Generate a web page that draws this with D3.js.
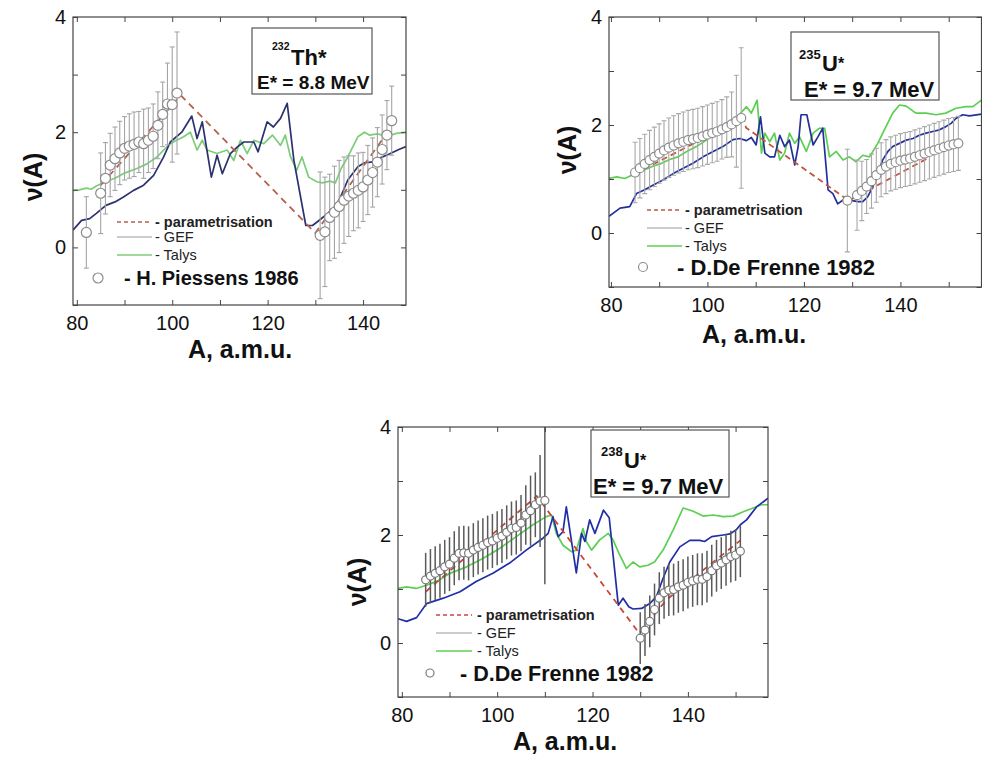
<!DOCTYPE html>
<html><head><meta charset="utf-8">
<script src="https://cdn.jsdelivr.net/npm/d3@7"></script>
<style>body{margin:0;background:#fff}svg{display:block}text{font-family:"Liberation Sans",Arial,sans-serif}</style>
</head><body><svg id="c" width="982" height="758"></svg>
<script>
// ---------- data ----------
const xTickValues = [80,90,100,110,120,130,140,150];
const xLabelValues = [80,100,120,140];
const yTickValues = [-1,0,1,2,3,4];
const yLabelValues = [0,2,4];

// 232Th*  (A, nu)
const thGef = [[79.2,0.30],[81,0.47],[82.7,0.50],[84.1,0.59],[86.1,0.73],[88,0.79],[89.7,0.87],[91.9,0.99],[94,1.08],[96.1,1.25],[98.2,1.57],[99.6,1.83],[102,2.0],[104.1,2.28],[105.2,1.89],[106.3,2.18],[108.2,1.22],[109.4,1.6],[110.5,1.28],[112.2,1.63],[113.6,1.74],[115,1.83],[117.1,1.83],[118,1.66],[119.9,2.18],[121.2,2.09],[122.7,2.24],[124.1,2.5],[125.5,1.51],[128,0.38],[129.4,0.38],[130.5,0.45],[132.6,0.59],[134.7,0.76],[136.8,1.17],[138.9,1.4],[140.3,1.47],[141.7,1.48],[143.5,1.55],[145.5,1.62],[147.5,1.7],[149,1.75]];
const thTalys = [[79.2,0.99],[80.5,1.0],[82,1.03],[83,1.01],[84,1.06],[86,1.14],[88,1.2],[90,1.29],[92.6,1.37],[94.7,1.45],[96.8,1.57],[98.2,1.69],[99.6,1.8],[100.9,1.86],[102.4,1.92],[103.8,2.0],[105.2,1.69],[106.3,1.86],[107.3,1.69],[109.4,1.63],[111.5,1.69],[112.9,1.51],[114.3,1.86],[115.7,1.63],[117.1,1.86],[119.2,1.8],[121,1.95],[122.7,1.77],[123.7,1.95],[124.8,1.57],[126.1,1.34],[127.2,1.57],[128.6,1.22],[130.3,1.14],[131.5,1.12],[133,1.15],[134.2,1.12],[135.4,1.37],[136.8,1.57],[138.9,1.92],[140.3,2.0],[141.3,1.95],[143,1.97],[145,1.93],[147,1.98],[149,2.0]];
const thParam = [[85,1.08],[101.8,2.64],[130,0.25],[146,2.1]];
const thExp = [[82,0.26,0.62],[85,0.94,0.7],[86,1.2,0.62],[87,1.43,0.55],[88,1.54,0.55],[89,1.64,0.55],[90,1.72,0.55],[91,1.76,0.56],[92,1.79,0.56],[93,1.83,0.53],[94,1.8,0.6],[95,1.86,0.56],[96,1.93,0.56],[97,2.12,0.58],[98,2.31,0.56],[99,2.49,0.71],[100,2.48,1.0],[101,2.68,1.06],
  [131,0.21,1.1],[132,0.27,0.95],[133,0.52,0.75],[134,0.61,0.8],[135,0.71,0.8],[136,0.82,0.75],[137,0.89,0.7],[138,0.94,0.65],[139,0.99,0.65],[140,1.05,0.6],[141,1.17,0.6],[142,1.3,0.6],[143,1.48,0.6],[144,1.7,0.6],[145,1.95,0.6],[146,2.2,0.6]];

// 235U*
const u5Gef = [[79.6,0.31],[81.9,0.46],[83.9,0.49],[85.3,0.73],[87,0.8],[88.8,0.89],[90.8,0.98],[92.9,1.1],[95,1.2],[97,1.29],[99.1,1.41],[101.2,1.51],[103.2,1.6],[105.3,1.73],[106.7,1.75],[108.1,1.71],[109.1,1.77],[110.1,1.63],[111,2.15],[111.9,1.48],[112.9,1.41],[113.9,1.41],[115,1.81],[116,1.6],[117,1.72],[118.1,1.26],[118.8,1.6],[119.4,2.19],[120.6,2.19],[121.9,1.63],[122.9,1.78],[123.9,1.94],[125,0.8],[126,0.73],[127,0.54],[128.1,0.61],[129.4,0.61],[131.2,0.58],[132.2,0.58],[133.2,0.67],[134.3,0.86],[135.3,1.1],[136.3,1.35],[137.4,1.51],[138.4,1.6],[139.8,1.66],[141.2,1.72],[142.6,1.75],[143.9,1.81],[145.3,1.85],[146.7,1.88],[148.1,1.91],[149.4,1.97],[150.5,2.03],[151.5,2.12],[152.9,2.19],[154.3,2.17],[156.8,2.2]];
const u5Talys = [[79.6,1.01],[81.2,1.04],[82.9,1.01],[84.3,1.07],[85.3,1.1],[87,1.17],[88.8,1.24],[90.5,1.29],[92.2,1.36],[93.9,1.41],[95.7,1.51],[97.7,1.6],[99.8,1.72],[101.5,1.85],[103.2,1.94],[105,2.06],[106.6,2.19],[108.1,2.34],[109.1,2.22],[110.3,2.46],[111.2,1.48],[111.9,1.85],[112.9,1.69],[113.9,1.85],[115,1.35],[116,1.48],[117,1.85],[118.1,1.66],[119.1,1.78],[120.5,1.51],[121.9,1.85],[123.2,1.94],[124.3,1.94],[125.3,1.41],[126.7,1.51],[128.1,1.35],[129.4,1.41],[130.8,1.32],[132.2,1.44],[133.6,1.41],[135.3,1.66],[137,1.97],[138.4,2.22],[139.8,2.37],[141.2,2.35],[143.2,2.22],[145.3,2.22],[147.4,2.19],[149.4,2.22],[151.5,2.31],[153.6,2.34],[155,2.34],[156.8,2.46]];
const u5Param = [[85,1.1],[107.5,2.13],[108,1.95],[129.3,0.6],[146,1.4]];
const u5Exp = [[85,1.12,0.56],[86,1.2,0.55],[87,1.28,0.55],[88,1.35,0.55],[89,1.41,0.55],[90,1.47,0.55],[91,1.53,0.55],[92,1.58,0.55],[93,1.62,0.55],[94,1.66,0.55],[95,1.69,0.55],[96,1.72,0.55],[97,1.74,0.55],[98,1.76,0.55],[99,1.79,0.55],[100,1.82,0.55],[101,1.85,0.55],[102,1.88,0.55],[103,1.92,0.55],[104,1.96,0.56],[105,2.01,0.6],[106,2.07,0.85],[107,2.13,1.3],
  [129,0.6,0.95],[131,0.7,0.65],[132,0.78,0.55],[133,0.86,0.5],[134,0.96,0.5],[135,1.07,0.5],[136,1.17,0.5],[137,1.23,0.5],[138,1.28,0.5],[139,1.31,0.5],[140,1.34,0.5],[141,1.36,0.5],[142,1.38,0.5],[143,1.41,0.5],[144,1.44,0.5],[145,1.47,0.5],[146,1.5,0.5],[147,1.53,0.5],[148,1.56,0.5],[149,1.59,0.5],[150,1.62,0.5],[151,1.64,0.5],[152,1.66,0.5]];

// 238U*
const u8Gef = [[79.2,0.45],[81,0.4],[83.1,0.47],[85.2,0.73],[88.7,0.83],[92.2,0.95],[95.6,1.14],[99.1,1.29],[102.6,1.48],[106.1,1.72],[109.6,1.94],[110.7,2.03],[111.7,2.34],[112.8,1.97],[113.8,2.06],[114.5,2.52],[116.6,1.3],[117.7,2.03],[118.4,1.88],[119.4,2.28],[120.5,2.03],[122.3,2.46],[123.5,2.32],[125.4,0.7],[126.4,0.83],[127.6,0.67],[128.5,0.63],[130.3,0.64],[132,0.73],[133.4,0.86],[134.8,1.2],[136.2,1.5],[138.3,1.78],[140.4,1.9],[142.5,1.9],[143.5,1.88],[145,1.97],[147.4,2.0],[148.8,2.02],[150.2,2.1],[151,2.19],[152.3,2.28],[154.4,2.52],[156.8,2.68]];
const u8Talys = [[79.2,1.01],[81,1.04],[83,1.01],[85.2,1.07],[87.5,1.15],[90.1,1.29],[93.6,1.41],[97.1,1.57],[100.5,1.75],[104,1.97],[107.5,2.19],[110.3,2.34],[111.4,2.37],[112.4,2.03],[113.8,1.81],[115.6,1.69],[116.6,1.72],[118,2.12],[118.7,1.88],[119.8,1.72],[121.5,1.91],[123.3,2.03],[124.3,1.91],[125.7,1.63],[127.1,1.38],[128.5,1.5],[129.9,1.41],[131.6,1.44],[133,1.5],[134.8,1.72],[136.9,2.09],[139,2.5],[141.1,2.44],[143.2,2.35],[145.3,2.37],[147.4,2.34],[149.5,2.35],[151.6,2.43],[153.7,2.5],[155.4,2.56],[156.8,2.56]];
const u8Param = [[85,0.95],[108.3,2.72],[129.8,0.18],[135.5,0.8],[142.5,1.3],[151,1.9]];
const u8Exp = [[85,1.17,0.5],[86,1.24,0.5],[87,1.29,0.5],[88,1.34,0.5],[89,1.41,0.5],[90,1.46,0.5],[91,1.57,0.5],[92,1.66,0.5],[93,1.67,0.5],[94,1.66,0.5],[95,1.72,0.5],[96,1.77,0.5],[97,1.81,0.5],[98,1.86,0.5],[99,1.89,0.5],[100,1.94,0.5],[101,1.98,0.5],[102,2.05,0.5],[103,2.12,0.5],[104,2.14,0.5],[105,2.22,0.52],[106,2.37,0.55],[107,2.45,0.65],[108,2.56,0.6],[109,2.63,0.85],[110,2.64,1.55],
  [130,0.09,0.48],[131,0.24,0.48],[132,0.40,0.48],[133,0.62,0.48],[134,0.83,0.48],[135,0.93,0.48],[136,0.98,0.48],[137,0.99,0.48],[138,1.04,0.48],[139,1.07,0.48],[140,1.12,0.48],[141,1.15,0.48],[142,1.18,0.48],[143,1.18,0.48],[144,1.23,0.48],[145,1.34,0.48],[146,1.43,0.48],[147,1.48,0.48],[148,1.54,0.48],[149,1.6,0.48],[150,1.63,0.48],[151,1.70,0.48]];

const legendLabels = ["- parametrisation","- GEF","- Talys"];

// ---------- layout / style ----------
const panels = [
  {id:"th", L:73, R:406, T:17, B:305, xd:[79.2,149],
   series:{gef:thGef, talys:thTalys, param:thParam, exp:thExp},
   gefC:"#2c3170", talysC:"#7ccd78", paramC:"#b4614e", errC:"#a5a5a5", circC:"#8c8c8c", r:5, cap:2.5, dash:"7,5",
   nuX:33, nuY:177, axX:240, axY:358,
   box:{x:252,y:28,w:120,h:66}, iso:{n:"232",ns:10.5,nx:272,ny:50,el:"Th*",ex:291,ey:65,es:22,star:false}, energy:{t:"E* = 8.8 MeV",x:257,y:89,s:19},
   leg:{lx:117,lx2:152,tx:155,y:[222,237,255],cx:98,cy:278,ctx:124,ref:"- H. Piessens 1986",refS:20}},
  {id:"u5", L:609, R:981.5, T:17, B:287, xd:[79.6,156.8],
   series:{gef:u5Gef, talys:u5Talys, param:u5Param, exp:u5Exp},
   gefC:"#24309a", talysC:"#5ccf52", paramC:"#c0553f", errC:"#a8a8a8", circC:"#8c8c8c", r:4.5, cap:2.5, dash:"6,4",
   nuX:567, nuY:150, axX:754, axY:343,
   box:{x:791,y:32,w:148,h:68}, iso:{n:"235",ns:13,nx:799,ny:59,el:"U",ex:822,ey:71,es:22,star:true}, energy:{t:"E* = 9.7 MeV",x:804,y:97,s:22},
   leg:{lx:647,lx2:682,tx:685,y:[210,228,246],cx:643,cy:267,ctx:677,ref:"- D.De Frenne 1982",refS:22}},
  {id:"u8", L:398, R:768, T:427, B:697, xd:[79.2,156.8],
   series:{gef:u8Gef, talys:u8Talys, param:u8Param, exp:u8Exp},
   gefC:"#1f2fa6", talysC:"#5ccf52", paramC:"#cc4538", errC:"#5a5a5a", circC:"#7a7a7a", r:4, cap:0, dash:"6,5",
   nuX:357, nuY:582, axX:565, axY:750,
   box:{x:591,y:430,w:138,h:67}, iso:{n:"238",ns:13,nx:601,ny:456,el:"U",ex:624,ey:468,es:22,star:true}, energy:{t:"E* = 9.7 MeV",x:593,y:494,s:22},
   leg:{lx:436,lx2:472,tx:477,y:[615,633,651],cx:430,cy:673,ctx:460,ref:"- D.De Frenne 1982",refS:21.5}}
];

const svg = d3.select("#c");
const defs = svg.append("defs");

panels.forEach(p => {
  const s = p.series;
  const x = d3.scaleLinear().domain(p.xd).range([p.L, p.R]);
  const y = d3.scaleLinear().domain([-1,4]).range([p.B, p.T]);
  defs.append("clipPath").attr("id","clip-"+p.id).append("rect")
    .attr("x",p.L).attr("y",p.T).attr("width",p.R-p.L).attr("height",p.B-p.T);
  const g = svg.append("g");
  const pg = g.append("g").attr("clip-path",`url(#clip-${p.id})`);
  const line = d3.line().x(d=>x(d[0])).y(d=>y(d[1]));

  pg.append("path").attr("d",line(s.talys)).attr("fill","none").attr("stroke",p.talysC).attr("stroke-width",1.7).attr("stroke-linejoin","round");
  pg.append("path").attr("d",line(s.gef)).attr("fill","none").attr("stroke",p.gefC).attr("stroke-width",1.7).attr("stroke-linejoin","round");
  pg.append("path").attr("d",line(s.param)).attr("fill","none").attr("stroke",p.paramC).attr("stroke-width",1.8).attr("stroke-dasharray",p.dash);

  const eb = pg.append("g").attr("stroke",p.errC).attr("stroke-width",p.id==="u8"?1.5:1.1);
  s.exp.forEach(d => {
    eb.append("line").attr("x1",x(d[0])).attr("x2",x(d[0])).attr("y1",y(d[1]+d[2])).attr("y2",y(d[1]-d[2]));
    if (p.cap>0) {
      eb.append("line").attr("x1",x(d[0])-p.cap).attr("x2",x(d[0])+p.cap).attr("y1",y(d[1]+d[2])).attr("y2",y(d[1]+d[2]));
      eb.append("line").attr("x1",x(d[0])-p.cap).attr("x2",x(d[0])+p.cap).attr("y1",y(d[1]-d[2])).attr("y2",y(d[1]-d[2]));
    }
  });
  pg.append("g").selectAll("circle").data(s.exp).join("circle")
    .attr("cx",d=>x(d[0])).attr("cy",d=>y(d[1])).attr("r",p.r)
    .attr("fill","#fff").attr("stroke",p.circC).attr("stroke-width",1.2);

  // axes
  const xt = xTickValues.filter(v => v>=p.xd[0] && v<=p.xd[1]);
  const fmtX = v => xLabelValues.includes(v) ? v : "";
  const fmtY = v => yLabelValues.includes(v) ? v : "";
  const ax = [
    g.append("g").attr("transform",`translate(0,${p.B})`).call(d3.axisBottom(x).tickValues(xt).tickSizeInner(-5).tickSizeOuter(0).tickPadding(11).tickFormat(fmtX)),
    g.append("g").attr("transform",`translate(0,${p.T})`).call(d3.axisTop(x).tickValues(xt).tickSizeInner(-5).tickSizeOuter(0).tickFormat("")),
    g.append("g").attr("transform",`translate(${p.L},0)`).call(d3.axisLeft(y).tickValues(yTickValues).tickSizeInner(-5).tickSizeOuter(0).tickPadding(7).tickFormat(fmtY)),
    g.append("g").attr("transform",`translate(${p.R},0)`).call(d3.axisRight(y).tickValues(yTickValues).tickSizeInner(-5).tickSizeOuter(0).tickFormat(""))
  ];
  ax.forEach(a => {
    a.select(".domain").remove();
    a.selectAll(".tick line").attr("stroke","#444");
    a.selectAll(".tick text").attr("font-size",20).attr("fill","#111").attr("font-family","Liberation Sans, Arial, sans-serif");
  });
  g.append("rect").attr("x",p.L).attr("y",p.T).attr("width",p.R-p.L).attr("height",p.B-p.T)
    .attr("fill","none").attr("stroke","#444").attr("stroke-width",1.2);

  // axis titles
  g.append("text").attr("x",p.axX).attr("y",p.axY).attr("text-anchor","middle")
    .attr("font-size",25).attr("font-weight","bold").attr("fill","#111").text("A, a.m.u.");
  g.append("text").attr("transform",`translate(${p.nuX},${p.nuY}) rotate(-90)`).attr("text-anchor","middle").attr("dy","0.35em")
    .attr("font-size",25).attr("font-weight","bold").attr("fill","#111").text("ν(A)");

  // annotation box
  g.append("rect").attr("x",p.box.x).attr("y",p.box.y).attr("width",p.box.w).attr("height",p.box.h)
    .attr("fill","#fff").attr("stroke","#555").attr("stroke-width",1.2);
  g.append("text").attr("x",p.iso.nx).attr("y",p.iso.ny).attr("font-size",p.iso.ns).attr("font-weight","bold").attr("fill","#111").text(p.iso.n);
  const el = g.append("text").attr("x",p.iso.ex).attr("y",p.iso.ey).attr("font-size",p.iso.es).attr("font-weight","bold").attr("fill","#111");
  el.append("tspan").text(p.iso.el);
  if (p.iso.star) el.append("tspan").attr("font-size",16).attr("dy",-2).text("*");
  g.append("text").attr("x",p.energy.x).attr("y",p.energy.y).attr("font-size",p.energy.s).attr("font-weight","bold").attr("fill","#111").text(p.energy.t);

  // legend
  const lg = g.append("g");
  lg.append("line").attr("x1",p.leg.lx).attr("x2",p.leg.lx2).attr("y1",p.leg.y[0]).attr("y2",p.leg.y[0]).attr("stroke",p.paramC).attr("stroke-width",1.6).attr("stroke-dasharray","4,3");
  lg.append("line").attr("x1",p.leg.lx).attr("x2",p.leg.lx2).attr("y1",p.leg.y[1]).attr("y2",p.leg.y[1]).attr("stroke","#999").attr("stroke-width",1.2);
  lg.append("line").attr("x1",p.leg.lx).attr("x2",p.leg.lx2).attr("y1",p.leg.y[2]).attr("y2",p.leg.y[2]).attr("stroke",p.talysC).attr("stroke-width",1.6);
  legendLabels.forEach((t,i) => {
    lg.append("text").attr("x",p.leg.tx).attr("y",p.leg.y[i]).attr("dy","0.35em")
      .attr("font-size",14.5).attr("font-weight",i===0?"bold":"normal").attr("fill","#222").text(t);
  });
  lg.append("circle").attr("cx",p.leg.cx).attr("cy",p.leg.cy).attr("r",p.r).attr("fill","#fff").attr("stroke",p.circC).attr("stroke-width",1.2);
  lg.append("text").attr("x",p.leg.ctx).attr("y",p.leg.cy).attr("dy","0.35em").attr("font-size",p.leg.refS).attr("font-weight","bold").attr("fill","#111").text(p.leg.ref);
});
</script></body></html>
